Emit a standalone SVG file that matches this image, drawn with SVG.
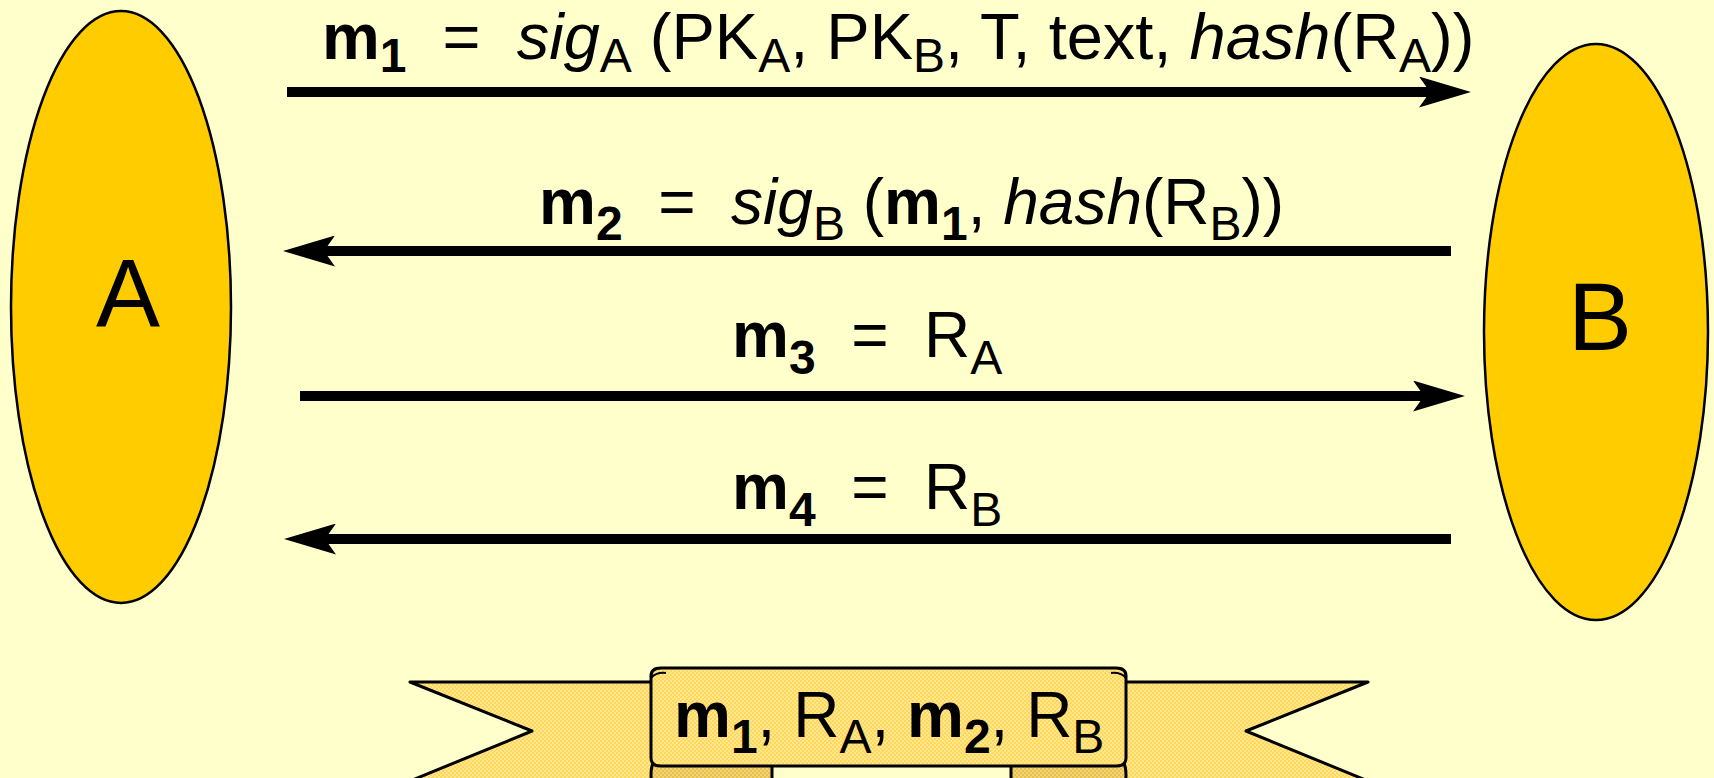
<svg xmlns="http://www.w3.org/2000/svg" width="1714" height="778" viewBox="0 0 1714 778">
  <style>
    text { font-family: "Liberation Sans", Arial, sans-serif; fill: #000; white-space: pre; }
    .msg { font-size: 64px; }
    .msg1 { font-size: 65px; }
    .b { font-weight: bold; }
    .i { font-style: italic; }
    .sub { font-size: 48px; }
    .party { fill: #FFCC00; stroke: #000; stroke-width: 2.5; }
    .plabel { font-size: 96px; text-anchor: middle; }
    .arrow { stroke: #000; stroke-width: 10; fill: none; marker-end: url(#head); }
    .rib { fill: url(#dots); stroke: #000; stroke-width: 3; stroke-linejoin: round; }
    .ribdark { fill: url(#dotsdark); stroke: #000; stroke-width: 3; stroke-linejoin: round; }
  </style>
  <defs>
    <marker id="head" markerUnits="userSpaceOnUse" markerWidth="52" markerHeight="31" refX="11" refY="15.5" orient="auto" viewBox="0 0 52 31">
      <path d="M0,0 L52,15.5 L0,31 L11,15.5 Z" fill="#000"/>
    </marker>
    <pattern id="dots" width="4" height="4" patternUnits="userSpaceOnUse">
      <rect width="4" height="4" fill="#FFE690"/>
      <rect x="0" y="0" width="2" height="2" fill="#FFD85A"/>
      <rect x="2" y="2" width="2" height="2" fill="#FFD85A"/>
    </pattern>
    <pattern id="dotsdark" width="4" height="4" patternUnits="userSpaceOnUse">
      <rect width="4" height="4" fill="#F2D27A"/>
      <rect x="0" y="0" width="2" height="2" fill="#E8C04A"/>
      <rect x="2" y="2" width="2" height="2" fill="#E8C04A"/>
    </pattern>
  </defs>
  <rect width="1714" height="778" fill="#FFFFCC"/>

  <g id="nodeA">
    <ellipse class="party" cx="121" cy="307" rx="110" ry="296"/>
    <text class="plabel" x="128" y="326">A</text>
  </g>
  <g id="nodeB">
    <ellipse class="party" cx="1596" cy="332" rx="112" ry="288"/>
    <text class="plabel" x="1600" y="350">B</text>
  </g>

  <g id="connectors">
    <line class="arrow" x1="287" y1="92" x2="1430" y2="92"/>
    <line class="arrow" x1="1451" y1="251" x2="324" y2="251"/>
    <line class="arrow" x1="300" y1="396" x2="1424" y2="396"/>
    <line class="arrow" x1="1451" y1="539" x2="325" y2="539"/>
  </g>

  <g id="labels">
    <text class="msg1" x="322" y="59"><tspan class="b">m</tspan><tspan class="b sub" y="72">1</tspan><tspan y="59">  =  </tspan><tspan class="i">sig</tspan><tspan class="sub" y="72">A</tspan><tspan y="59"> (PK</tspan><tspan class="sub" y="72">A</tspan><tspan y="59">, PK</tspan><tspan class="sub" y="72">B</tspan><tspan y="59">, T, text, </tspan><tspan class="i">hash</tspan><tspan>(R</tspan><tspan class="sub" y="72">A</tspan><tspan y="59">))</tspan></text>
    <text class="msg" x="539" y="224"><tspan class="b">m</tspan><tspan class="b sub" y="240">2</tspan><tspan y="224">  =  </tspan><tspan class="i">sig</tspan><tspan class="sub" y="240">B</tspan><tspan y="224"> (</tspan><tspan class="b">m</tspan><tspan class="b sub" y="240">1</tspan><tspan y="224">, </tspan><tspan class="i">hash</tspan><tspan>(R</tspan><tspan class="sub" y="240">B</tspan><tspan y="224">))</tspan></text>
    <text class="msg" x="732" y="357"><tspan class="b">m</tspan><tspan class="b sub" y="374">3</tspan><tspan y="357">  =  R</tspan><tspan class="sub" y="374">A</tspan></text>
    <text class="msg" x="732" y="509"><tspan class="b">m</tspan><tspan class="b sub" y="526">4</tspan><tspan y="509">  =  R</tspan><tspan class="sub" y="526">B</tspan></text>
  </g>

  <g id="banner">
    <path class="rib" d="M410,682 H700 V781 H410 L532,731 Z"/>
    <path class="rib" d="M1368,682 H1080 V781 H1368 L1246,731 Z"/>
    <path class="ribdark" d="M662,758 H772 V792 H662 Q651,792 651,775 Q651,758 662,758 Z"/>
    <path class="ribdark" d="M1115,758 H1011 V792 H1115 Q1126,792 1126,775 Q1126,758 1115,758 Z"/>
    <path class="rib" d="M651,676 Q651,668 661,668 H1116 Q1126,668 1126,676 V758 Q1126,766 1116,766 H661 Q651,766 651,758 Z"/>
    <path d="M651,678 Q656,672 666,673" fill="none" stroke="#000" stroke-width="2"/>
    <path d="M1126,678 Q1121,672 1111,673" fill="none" stroke="#000" stroke-width="2"/>
    <text class="msg" x="674" y="737"><tspan class="b">m</tspan><tspan class="b sub" y="753">1</tspan><tspan y="737">, R</tspan><tspan class="sub" y="753">A</tspan><tspan y="737">, </tspan><tspan class="b">m</tspan><tspan class="b sub" y="753">2</tspan><tspan y="737">, R</tspan><tspan class="sub" y="753">B</tspan></text>
  </g>
</svg>
